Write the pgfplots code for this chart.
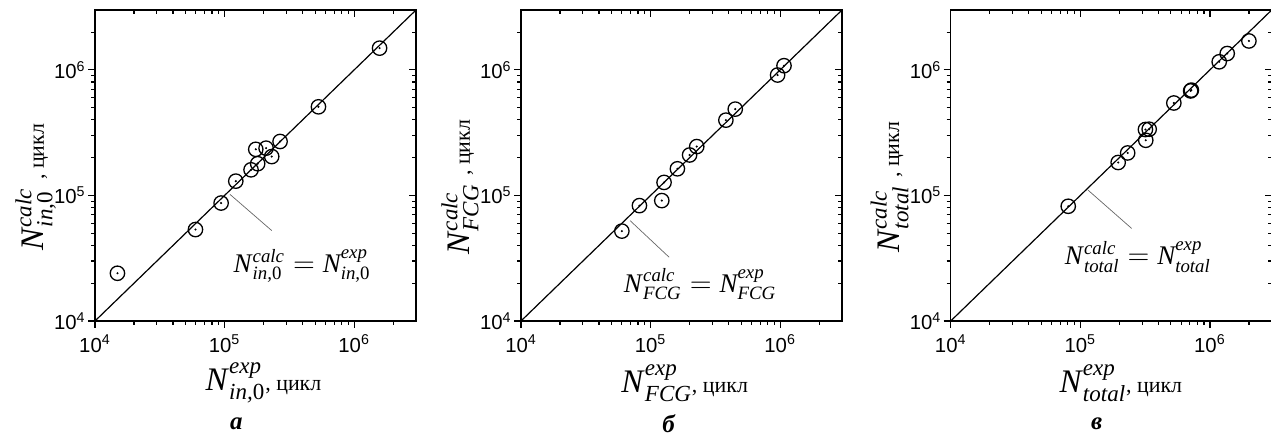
\documentclass[border=0pt]{standalone}
\usepackage{amsmath}
\usepackage{fontspec}
\setmainfont{Liberation Serif}
\setsansfont{Liberation Sans}
\usepackage{pgfplots}
\usepackage{pgfplotstable}
\pgfplotsset{compat=1.18}

% (a) N_in,0 : exp vs calc
\pgfplotstableread{
x y
1.49e4 2.40e4
5.96e4 5.35e4
9.40e4 8.70e4
1.22e5 1.30e5
1.60e5 1.60e5
1.80e5 1.79e5
1.74e5 2.33e5
2.09e5 2.38e5
2.31e5 2.04e5
2.68e5 2.69e5
5.30e5 5.08e5
1.57e6 1.49e6
}\dataA

% (b) N_FCG
\pgfplotstableread{
x y
6.00e4 5.20e4
8.20e4 8.30e4
1.22e5 9.10e4
1.27e5 1.27e5
1.61e5 1.63e5
2.00e5 2.10e5
2.27e5 2.45e5
3.81e5 3.98e5
4.50e5 4.87e5
9.55e5 9.10e5
1.07e6 1.08e6
}\dataB

% (c) N_total
\pgfplotstableread{
x y
8.07e4 8.20e4
1.96e5 1.83e5
2.32e5 2.18e5
3.18e5 3.35e5
3.40e5 3.37e5
3.20e5 2.75e5
5.27e5 5.45e5
7.20e5 6.90e5
7.10e5 6.80e5
1.18e6 1.16e6
1.36e6 1.35e6
2.00e6 1.70e6
}\dataC

\newcommand{\lblfont}{\fontsize{16.5}{19}\selectfont}
\newcommand{\annfont}{\fontsize{13.5}{16}\selectfont}
\newcommand{\cyc}{{\fontsize{11}{13}\selectfont, цикл}}

\pgfplotsset{
  logpanel/.style={
    scale only axis, width=160.5bp, height=155.5bp,
    xmin=1e4, xmax=3e6, ymin=1e4, ymax=3e6,
    xtick={1e4,1e5,1e6}, ytick={1e4,1e5,1e6},
    minor xtick={2e4,3e4,4e4,5e4,6e4,7e4,8e4,9e4,2e5,3e5,4e5,5e5,6e5,7e5,8e5,9e5,2e6},
    minor ytick={2e4,3e4,4e4,5e4,6e4,7e4,8e4,9e4,2e5,3e5,4e5,5e5,6e5,7e5,8e5,9e5,2e6},
    xticklabels={10\textsuperscript{4},10\textsuperscript{5},10\textsuperscript{6}},
    yticklabels={10\textsuperscript{4},10\textsuperscript{5},10\textsuperscript{6}},
    tick label style={font=\sffamily\fontsize{10.2}{12}\selectfont},
    yticklabel style={inner xsep=1bp},
    axis line style={line width=0.75bp},
    major tick length=3.5bp, minor tick length=2bp,
    tick style={black, line width=0.6bp},
    label style={font=\lblfont},
    clip=false,
  },
}
\tikzset{
  ptsstyle/.style={only marks, mark=o, mark size=3.6bp, mark options={line width=0.65bp, black}},
  dotstyle/.style={only marks, mark=*, mark size=0.3bp, black},
  diagstyle/.style={black, line width=0.6bp},
  leaderstyle/.style={gray!80!black, line width=0.35bp},
  letterstyle/.style={font=\bfseries\itshape\fontsize{12.5}{14}\selectfont},
}

\begin{document}
\begin{tikzpicture}
% ---------- a ----------
\begin{loglogaxis}[logpanel, at={(0,0)}, tick align=inside, xtick pos=right, ytick pos=right,
  xticklabels={}, yticklabels={}]
\addplot[draw=none] coordinates {(1e4,1e4) (3e6,3e6)};
\end{loglogaxis}
\begin{loglogaxis}[logpanel, at={(0,0)}, tick align=outside, xtick pos=left, ytick pos=left,
  xlabel={\textit{N}$^{\textit{exp}}_{\textit{in,}\textup{0}}$\cyc},
  ylabel={\textit{N}$^{\textit{calc}}_{\textit{in,}\textup{0}}$ \cyc},
  xlabel style={at={(axis description cs:0.525,-0.2)}, anchor=center},
  ylabel style={at={(axis description cs:-0.185,0.43)}, anchor=center}]
\addplot[diagstyle] coordinates {(1e4,1e4) (3e6,3e6)};
\addplot[ptsstyle] table {\dataA};
\addplot[dotstyle] table {\dataA};
\draw[leaderstyle] (axis cs:1.10e5,1.02e5) -- (axis cs:2.31e5,5.25e4);
\node[font=\annfont] at (axis cs:3.96e5,2.75e4)
  {\textit{N}$^{\textit{calc}}_{\textit{in,}\textup{0}}=\textit{N}^{\textit{exp}}_{\textit{in,}\textup{0}}$};
\node[letterstyle] at (axis description cs:0.44,-0.33) {а};
\end{loglogaxis}
% ---------- б ----------
\begin{loglogaxis}[logpanel, at={(213bp,0)}, tick align=inside, xtick pos=right, ytick pos=right,
  xticklabels={}, yticklabels={}]
\addplot[draw=none] coordinates {(1e4,1e4) (3e6,3e6)};
\end{loglogaxis}
\begin{loglogaxis}[logpanel, at={(213bp,0)}, tick align=outside, xtick pos=left, ytick pos=left,
  xlabel={\textit{N}$^{\textit{exp}}_{\textit{FCG}}$\cyc},
  ylabel={\textit{N}$^{\textit{calc}}_{\textit{FCG}}$ \cyc},
  xlabel style={at={(axis description cs:0.51,-0.2)}, anchor=center},
  ylabel style={at={(axis description cs:-0.19,0.43)}, anchor=center}]
\addplot[diagstyle] coordinates {(1e4,1e4) (3e6,3e6)};
\addplot[ptsstyle] table {\dataB};
\addplot[dotstyle] table {\dataB};
\draw[leaderstyle] (axis cs:6.95e4,6.3e4) -- (axis cs:1.39e5,3.22e4);
\node[font=\annfont] at (axis cs:2.41e5,1.97e4)
  {\textit{N}$^{\textit{calc}}_{\textit{FCG}}=\textit{N}^{\textit{exp}}_{\textit{FCG}}$};
\node[letterstyle] at (axis description cs:0.46,-0.33) {б};
\end{loglogaxis}
% ---------- в ----------
\begin{loglogaxis}[logpanel, at={(427.85bp,0)}, tick align=inside, xtick pos=right, ytick pos=right,
  xticklabels={}, yticklabels={}]
\addplot[draw=none] coordinates {(1e4,1e4) (3e6,3e6)};
\end{loglogaxis}
\begin{loglogaxis}[logpanel, at={(427.85bp,0)}, tick align=outside, xtick pos=left, ytick pos=left,
  xlabel={\textit{N}$^{\textit{exp}}_{\textit{total}}$\cyc},
  ylabel={\textit{N}$^{\textit{calc}}_{\textit{total}}$ \cyc},
  xlabel style={at={(axis description cs:0.53,-0.2)}, anchor=center},
  ylabel style={at={(axis description cs:-0.19,0.43)}, anchor=center}]
\addplot[diagstyle] coordinates {(1e4,1e4) (3e6,3e6)};
\addplot[ptsstyle] table {\dataC};
\addplot[dotstyle] table {\dataC};
\draw[leaderstyle] (axis cs:1.15e5,1.10e5) -- (axis cs:2.49e5,5.46e4);
\node[font=\annfont] at (axis cs:2.78e5,3.23e4)
  {\textit{N}$^{\textit{calc}}_{\textit{total}}=\textit{N}^{\textit{exp}}_{\textit{total}}$};
\node[letterstyle] at (axis description cs:0.455,-0.33) {в};
\end{loglogaxis}
\pgfresetboundingbox
\path (-47.5bp,-57.5bp) rectangle (588bp,160.5bp);
\end{tikzpicture}
\end{document}
